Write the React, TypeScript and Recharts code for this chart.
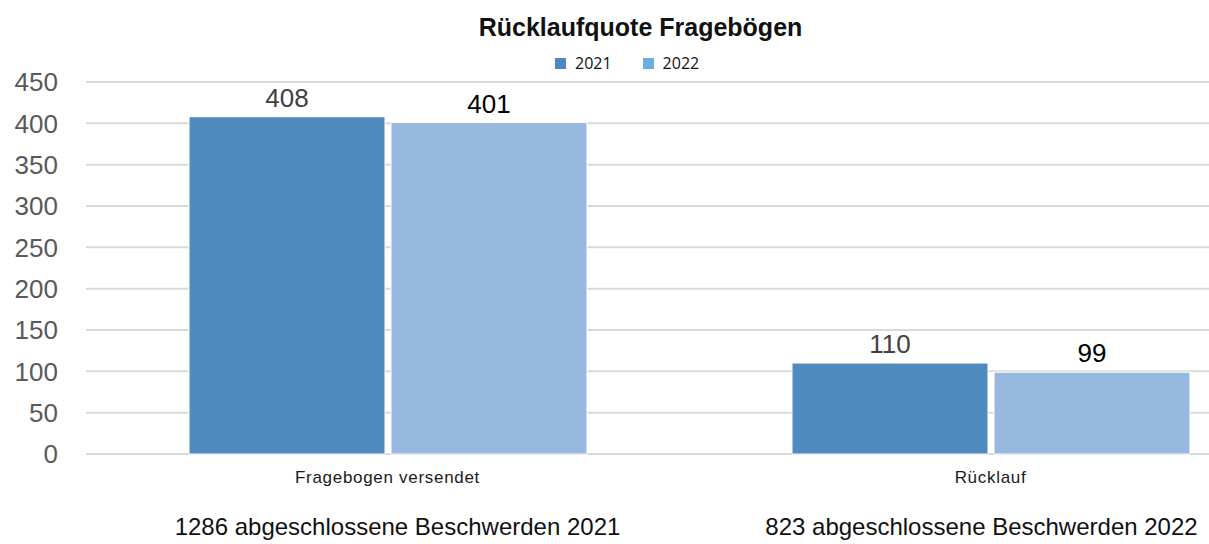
import { BarChart, Bar, XAxis, YAxis, CartesianGrid, LabelList } from 'recharts';

const categories = ['Fragebogen versendet', 'Rücklauf'];
const values2021 = [408, 110];
const values2022 = [401, 99];
const footnotes = ['1286 abgeschlossene Beschwerden 2021', '823 abgeschlossene Beschwerden 2022'];
const yTicks = [0, 50, 100, 150, 200, 250, 300, 350, 400, 450];

const data = categories.map((name, i) => ({
  name,
  y2021: values2021[i],
  y2022: values2022[i],
  note: footnotes[i],
}));

// small horizontal nudges for the footnote text under each category
const noteShift = [10, -9];

const CategoryTick = (props: any) => {
  const { x, y, payload, index } = props;
  return (
    <g>
      <text x={x} y={y + 21} textAnchor="middle" fontSize={17} letterSpacing={0.7} fill="#1a1a1a"
        fontFamily="'Liberation Sans', Arial, sans-serif">
        {payload.value}
      </text>
      <text x={x + noteShift[index]} y={y + 73} textAnchor="middle" fontSize={24} fill="#111"
        fontFamily="'Liberation Sans', Arial, sans-serif">
        {data[index].note}
      </text>
    </g>
  );
};

const App = () => {
  return (
    <div style={{ position: 'absolute', left: 0, top: 0, width: 1209, height: 544, overflow: 'hidden', background: '#fff' }}>
      <div style={{
        position: 'absolute', left: 0, width: 1281, top: 13, textAlign: 'center',
        fontFamily: "'Liberation Sans', Arial, sans-serif", fontWeight: 'bold', fontSize: 25, color: '#111',
      }}>
        Rücklaufquote Fragebögen
      </div>
      <div style={{
        position: 'absolute', left: 555, top: 52, display: 'flex', alignItems: 'center',
        fontFamily: "'Open Sans', 'Liberation Sans', sans-serif", fontSize: 16, color: '#111',
      }}>
        <span style={{ width: 11, height: 11, background: '#4f86c1', display: 'inline-block', marginRight: 9 }} />
        <span style={{ marginRight: 31 }}>2021</span>
        <span style={{ width: 11, height: 11, background: '#68aee0', display: 'inline-block', marginRight: 9 }} />
        <span>2022</span>
      </div>
      <BarChart
        width={1292}
        height={544}
        data={data}
        margin={{ top: 82, right: 0, left: 0, bottom: 0 }}
        barCategoryGap={103}
        barGap={6}
      >
        <CartesianGrid vertical={false} stroke="#d9d9d9" strokeWidth={2} />
        <XAxis dataKey="name" axisLine={false} tickLine={false} height={90} tick={<CategoryTick />} interval={0} />
        <YAxis
          width={86}
          domain={[0, 450]}
          ticks={yTicks}
          axisLine={false}
          tickLine={false}
          tickSize={0}
          tickMargin={28}
          tick={{ fontSize: 26, fill: '#595959', fontFamily: "'Liberation Sans', Arial, sans-serif" }}
        />
        <Bar dataKey="y2021" fill="#508bbf" stroke="#fff" strokeWidth={1} isAnimationActive={false}>
          <LabelList dataKey="y2021" position="top" offset={10} fontSize={26} fill="#404040"
            fontFamily="'Liberation Sans', Arial, sans-serif" />
        </Bar>
        <Bar dataKey="y2022" fill="#97b9df" stroke="#fff" strokeWidth={1} isAnimationActive={false}>
          <LabelList dataKey="y2022" position="top" offset={10} fontSize={26} fill="#000"
            fontFamily="'Liberation Sans', Arial, sans-serif" />
        </Bar>
      </BarChart>
    </div>
  );
};

export default App;
